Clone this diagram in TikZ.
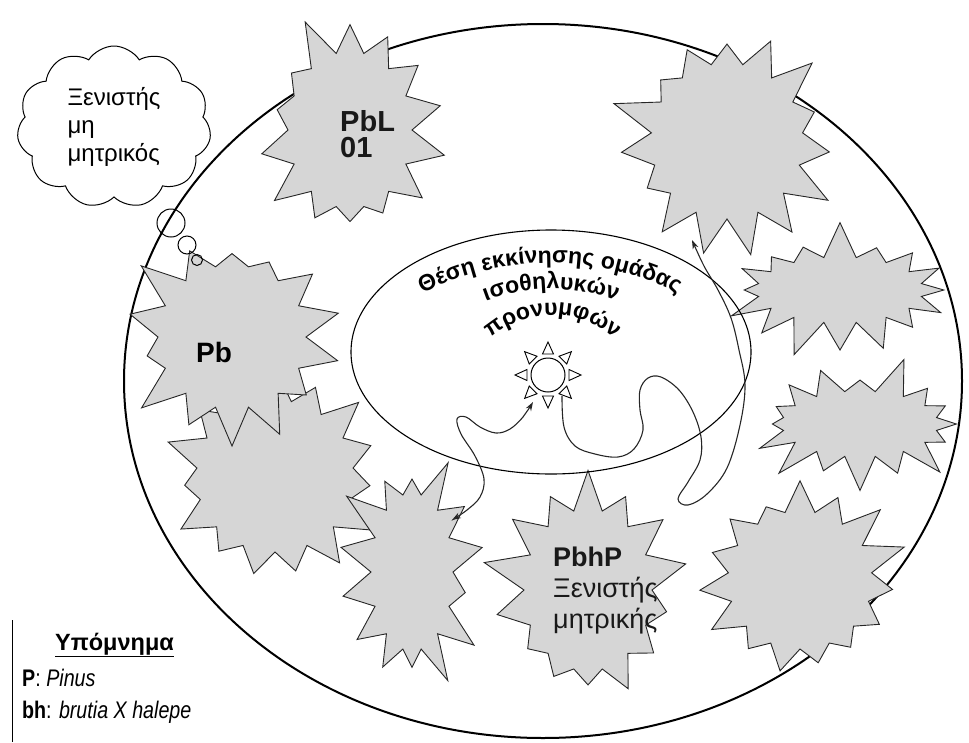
\documentclass[tikz,border=0pt]{standalone}
\usepackage{fontspec}
\setmainfont{Liberation Sans}
\newfontfamily\narrowfont[FakeStretch=0.82]{Liberation Sans}
\usetikzlibrary{shapes.symbols, shapes.geometric, arrows.meta, decorations.text}

\newcommand{\arcfont}{\fontsize{23}{27}\selectfont\bfseries}

\begin{document}
\begin{tikzpicture}[x=1pt, y=1pt, >={Stealth[length=9pt, width=6pt]}]
    \tikzstyle{burst}=[starburst, draw=black!85, fill=black!16, line width=0.9pt, starburst point height=44pt]
    \tikzstyle{tag}=[inner sep=0pt, text=black!90, anchor=north west, align=left]
    \tikzstyle{wiggle}=[line width=1.1pt, draw=black!85]
    \tikzstyle{legend}=[inner sep=0pt, anchor=base west, font=\narrowfont\fontsize{24}{28}\selectfont]

    \useasboundingbox (0,0) rectangle (969,-742);

    % outer area
    \draw[line width=2pt] (543,-381) ellipse[x radius=419pt, y radius=357pt];

    % stars
    \node[burst, starburst points=15, random starburst=11, minimum width=245pt, minimum height=240pt] (S3) at (275,-476) {};
    \node[burst, starburst points=14, random starburst=23, minimum width=236pt, minimum height=232pt] (Pb) at (232,-337) {};
    \node[burst, starburst points=14, random starburst=5, minimum width=212pt, minimum height=245pt] (PbL) at (350,-130) {};
    \node[burst, starburst points=15, random starburst=42, minimum width=240pt, minimum height=244pt] (S9) at (727,-141) {};
    \node[burst, starburst points=16, random starburst=7, minimum width=242pt, minimum height=142pt, starburst point height=38pt] (S8) at (840,-290) {};
    \node[burst, starburst points=16, random starburst=13, minimum width=232pt, minimum height=142pt, starburst point height=38pt] (S7) at (860,-424) {};
    \node[burst, starburst points=15, random starburst=31, minimum width=232pt, minimum height=226pt] (S6) at (800,-580) {};
    \node[burst, starburst points=14, random starburst=17, minimum width=216pt, minimum height=250pt] (PbhP) at (588,-590) {};
    \node[burst, starburst points=14, random starburst=3, minimum width=170pt, minimum height=246pt] (S4) at (412,-572) {};

    % thought cloud
    \node[cloud, draw, line width=1pt, cloud puffs=11, cloud puff arc=115, aspect=1.2, minimum width=194pt, minimum height=162pt, align=left, font=\fontsize{24}{28}\selectfont] (Cloud) at (114,-127) {Ξενιστής\\μη\\μητρικός};
    \node[circle, draw, line width=1pt, minimum size=28pt, inner sep=0pt] (b1) at (171,-223) {};
    \node[circle, draw, line width=1pt, minimum size=18pt, inner sep=0pt] (b2) at (187,-245) {};
    \node[circle, draw, line width=1pt, minimum size=11pt, inner sep=0pt] (b3) at (197,-260) {};

    % starting place
    \node[ellipse, draw, line width=1.1pt, minimum width=400pt, minimum height=244pt, inner sep=0pt] (Nest) at (551,-352) {};
    \node[circle, draw, line width=1pt, minimum size=34pt, inner sep=0pt] (Sun) at (548,-375) {};
    \foreach \a in {0,45,...,315}
        \draw[line width=0.9pt, shift={(Sun.center)}, rotate=\a] (21pt,-5.5pt) -- (33pt,0pt) -- (21pt,5.5pt) -- cycle;

    \path[decorate, decoration={text along path, text={|\arcfont|Θέση εκκίνησης ομάδας}, text align=center}]
        (550,-547) ++(150:284pt) arc[start angle=150, end angle=30, radius=284pt];
    \path[decorate, decoration={text along path, text={|\arcfont|ισοθηλυκών}, text align=center}]
        (551,-472) ++(150:183pt) arc[start angle=150, end angle=30, radius=183pt];
    \path[decorate, decoration={text along path, text={|\arcfont|προνυμφών}, text align=center}]
        (553,-409) ++(150:94pt) arc[start angle=150, end angle=30, radius=94pt];

    % paths of the larvae
    \coordinate (sunA) at ([shift={(-15pt,-27pt)}]Sun.center);
    \coordinate (sunB) at ([shift={(14pt,-21pt)}]Sun.center);
    \coordinate (tipA) at ([shift={(40pt,52pt)}]S4.center);
    \coordinate (tipB) at ([shift={(-35pt,-99pt)}]S9.center);

    \draw[wiggle, <->] plot[smooth, tension=0.6] coordinates {(sunA) (523,-417) (510,-429) (496,-433) (480,-427) (466,-417) (457,-419) (461,-434) (475,-456) (484,-479) (480,-497) (467,-510) (tipA)};
    \draw[wiggle, ->] plot[smooth, tension=0.6] coordinates {(sunB) (564,-427) (575,-446) (595,-454) (618,-457) (634,-449) (643,-430) (640,-410) (640,-390) (648,-378) (661,-377) (679,-390) (693,-412) (701,-437) (700,-460) (688,-482) (678,-499) (688,-505) (707,-494) (727,-468) (740,-425) (745,-385) (739,-350) (731,-318) (718,-290) (704,-266) (tipB)};

    % labels
    \node[tag, font=\fontsize{29}{26}\selectfont\bfseries] (tPbL) at (340,-110) {PbL\\01};
    \node[font=\fontsize{28}{30}\selectfont\bfseries] (tPb) at (214,-352) {Pb};
    \node[tag, font=\fontsize{27}{31}\selectfont] (tPbhP) at (553,-547) {\textbf{PbhP}\\Ξενιστής\\μητρικής};

    % legend
    \draw[line width=1pt] (12,-620) -- (12,-742);
    \node[legend, font=\fontsize{23.5}{28}\selectfont\bfseries] (Key) at (55,-650) {\underline{Υπόμνημα}};
    \node[legend] (KeyP) at (22,-686) {\textbf{P}: \textit{Pinus}};
    \node[legend] (KeyBH) at (22,-718) {\textbf{bh}: \textit{brutia X halepe}};
\end{tikzpicture}
\end{document}
